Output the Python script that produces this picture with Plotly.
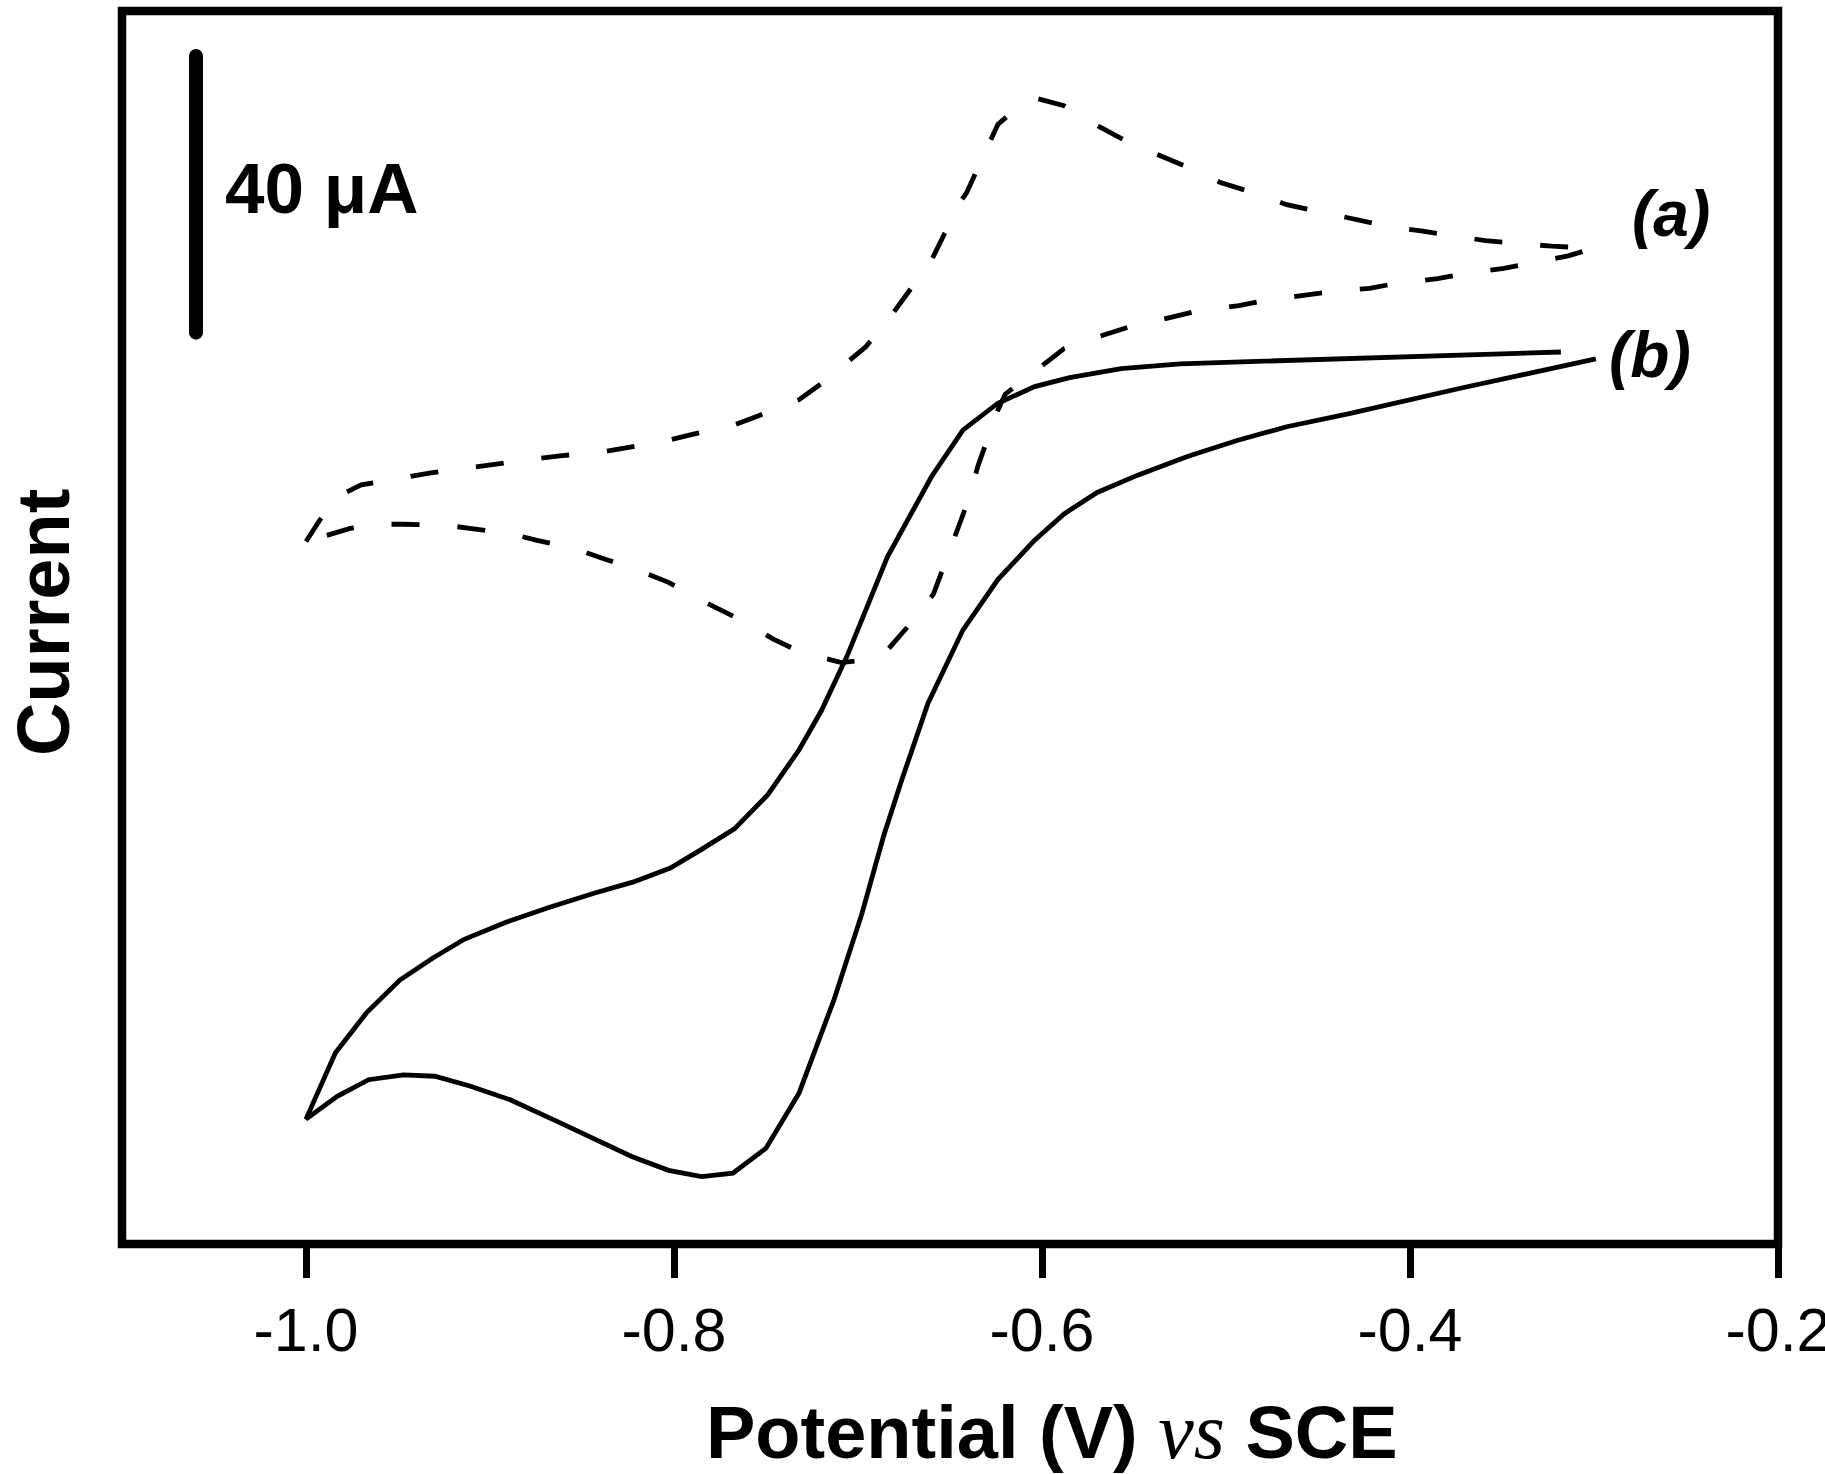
import plotly.graph_objects as go

# --- data (potential in V vs SCE, current in uA) ---
# (a) dashed CV, starts at -1.0 V, goes out to -0.3 V and back
a_potential = [-1.000, -0.985, -0.970, -0.948, -0.933, -0.913, -0.898, -0.877, -0.862, -0.840,
               -0.826, -0.804, -0.790, -0.768, -0.754, -0.732, -0.718, -0.696, -0.684, -0.660,
               -0.653, -0.645, -0.641, -0.624, -0.610, -0.602, -0.588, -0.574, -0.553, -0.538,
               -0.516, -0.503, -0.481, -0.467, -0.444, -0.431, -0.409, -0.394, -0.372, -0.359,
               -0.337, -0.323, -0.300, -0.314, -0.335, -0.349, -0.371, -0.385, -0.408, -0.422,
               -0.444, -0.458, -0.480, -0.493, -0.516, -0.530, -0.552, -0.566, -0.588, -0.601,
               -0.620, -0.624, -0.629, -0.635, -0.639, -0.659, -0.670, -0.686, -0.695, -0.709,
               -0.731, -0.746, -0.767, -0.782, -0.803, -0.817, -0.839, -0.854, -0.875, -0.890,
               -0.911, -0.925, -0.947, -0.962, -0.976, -1.000]
a_current = [16.3, 22.5, 24.5, 25.5, 26.2, 26.9, 27.4, 28.2, 28.7, 29.2,
             29.9, 30.9, 31.8, 33.1, 34.5, 36.8, 39.5, 44.4, 48.2, 57.0,
             60.8, 65.2, 66.7, 76.6, 79.8, 80.3, 79.3, 77.0, 74.0, 72.3,
             69.9, 68.2, 66.4, 65.0, 63.7, 62.9, 61.7, 61.2, 60.3, 59.8,
             59.3, 59.0, 58.7, 57.6, 56.5, 55.8, 55.0, 54.3, 53.6, 52.9,
             52.4, 51.9, 51.1, 50.4, 49.6, 48.7, 47.4, 46.2, 44.2, 41.5,
             37.6, 35.3, 31.4, 27.1, 23.0, 8.7, 4.9, 0.0, -0.8, -1.2,
             0.3, 2.2, 5.4, 7.4, 10.4, 11.9, 13.9, 15.3, 16.5, 17.5,
             18.2, 18.7, 18.8, 18.8, 18.2, 16.3]

# (b) solid CV, starts near -0.32 V, down to -1.0 V and back to -0.3 V
b_potential = [-0.318, -0.403, -0.463, -0.525, -0.557, -0.585, -0.604, -0.624, -0.643, -0.660,
               -0.684, -0.706, -0.720, -0.732, -0.749, -0.767, -0.785, -0.802, -0.822, -0.843,
               -0.868, -0.892, -0.914, -0.931, -0.949, -0.967, -0.984, -1.000, -0.983, -0.966,
               -0.947, -0.930, -0.911, -0.889, -0.863, -0.843, -0.823, -0.803, -0.785, -0.768,
               -0.750, -0.732, -0.713, -0.698, -0.686, -0.676, -0.662, -0.643, -0.624, -0.604,
               -0.588, -0.570, -0.548, -0.521, -0.494, -0.467, -0.433, -0.372, -0.299]
b_current = [43.7, 43.0, 42.5, 42.0, 41.3, 40.0, 38.7, 36.3, 32.4, 25.7,
             14.1, -0.3, -8.2, -13.8, -20.3, -25.2, -28.2, -30.9, -32.9, -34.5,
             -36.6, -38.8, -41.2, -43.9, -47.1, -51.8, -57.6, -67.2, -63.9, -61.5,
             -60.8, -61.0, -62.4, -64.4, -67.6, -70.1, -72.6, -74.6, -75.5, -75.0,
             -71.4, -63.4, -49.9, -37.6, -26.2, -18.0, -7.1, 3.5, 10.8, 16.5,
             20.3, 23.4, 25.9, 28.6, 30.9, 32.9, 34.8, 38.5, 42.7]

x_ticks = [-1.0, -0.8, -0.6, -0.4, -0.2]
x_ticktext = ["-1.0", "-0.8", "-0.6", "-0.4", "-0.2"]

# scale bar (40 uA) in the upper left corner
SCALE_UA = 40
SCALE_X = -1.0598
SCALE_BOTTOM = 46.5

SANS = "Arial, Liberation Sans, sans-serif"

fig = go.Figure()

fig.add_trace(go.Scatter(x=a_potential, y=a_current, mode="lines", name="(a)",
                         line=dict(color="black", width=4.8, dash="28px,38px")))
fig.add_trace(go.Scatter(x=b_potential, y=b_current, mode="lines", name="(b)",
                         line=dict(color="black", width=4.8)))

# scale bar: thick line + round end caps
fig.add_trace(go.Scatter(x=[SCALE_X, SCALE_X], y=[SCALE_BOTTOM, SCALE_BOTTOM + SCALE_UA],
                         mode="lines+markers", line=dict(color="black", width=14),
                         marker=dict(color="black", size=14, symbol="circle"),
                         hoverinfo="skip"))

fig.add_annotation(x=-1.0451, y=67.35, xref="x", yref="y", text="40 μA", showarrow=False,
                   xanchor="left", yanchor="middle",
                   font=dict(family=SANS, size=71, color="black", weight="bold"))
fig.add_annotation(x=-0.2582, y=63.7, xref="x", yref="y", text="<i>(a)</i>", showarrow=False,
                   xanchor="center", yanchor="middle",
                   font=dict(family=SANS, size=64, color="black", weight="bold"))
fig.add_annotation(x=-0.2696, y=43.2, xref="x", yref="y", text="<i>(b)</i>", showarrow=False,
                   xanchor="center", yanchor="middle",
                   font=dict(family=SANS, size=64, color="black", weight="bold"))

# axis titles
fig.add_annotation(x=0.5616, y=-0.1517, xref="paper", yref="paper",
                   text="Potential (V) <span style='font-family:Times New Roman, Liberation Serif, serif;"
                        "font-weight:normal;font-style:italic;font-size:80px'>vs</span> SCE",
                   showarrow=False, xanchor="center", yanchor="middle",
                   font=dict(family=SANS, size=74, color="black", weight="bold"))
fig.add_annotation(x=-0.0475, y=0.504, xref="paper", yref="paper", text="Current",
                   textangle=-90, showarrow=False, xanchor="center", yanchor="middle",
                   font=dict(family=SANS, size=74, color="black", weight="bold"))

# frame
fig.add_shape(type="rect", xref="paper", yref="paper", x0=0, x1=1, y0=0, y1=1,
              line=dict(color="black", width=8.5), layer="above")

fig.update_layout(
    width=1825, height=1474,
    margin=dict(l=122, r=47, t=11, b=230, autoexpand=False),
    plot_bgcolor="white", paper_bgcolor="white",
    showlegend=False,
)
fig.update_xaxes(range=[-1.1, -0.2], tickvals=x_ticks, ticktext=x_ticktext,
                 ticks="outside", ticklen=33, tickwidth=7, tickcolor="black",
                 tickfont=dict(family=SANS, size=61, color="black"),
                 ticklabeloverflow="allow", automargin=False,
                 showgrid=False, zeroline=False, showline=False)
fig.update_yaxes(range=[-85.25, 93.0], showticklabels=False, ticks="", automargin=False,
                 showgrid=False, zeroline=False, showline=False)

fig.write_html("out.html", config={"displayModeBar": False},
               post_script="document.body.style.margin='0';")
